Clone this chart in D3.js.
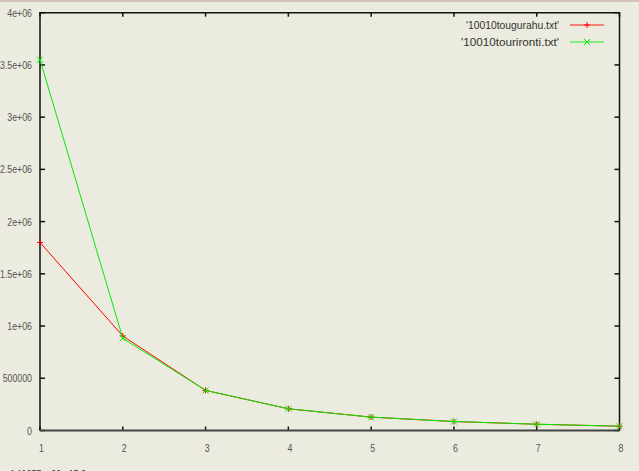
<!DOCTYPE html>
<html><head><meta charset="utf-8">
<script src="https://cdn.jsdelivr.net/npm/d3@7"></script>
<style>
html,body{margin:0;padding:0;background:#ecebdf;overflow:hidden;}
svg{display:block;}
text{font-family:"Liberation Sans",Arial,sans-serif;}
</style></head>
<body>
<script>
const xValues = [1, 2, 3, 4, 5, 6, 7, 8];
const seriesNames = ["'10010tougurahu.txt'", "'10010tourironti.txt'"];
const tougurahu = [1800000, 905000, 384000, 208000, 128000, 86000, 60000, 41000];
const tourironti = [3550000, 883000, 384000, 208000, 128000, 86000, 60000, 41000];
const seriesColors = ["#ff0000", "#00ee00"];
const yTicks = [0, 500000, 1000000, 1500000, 2000000, 2500000, 3000000, 3500000, 4000000];
const yTickLabels = ["0", "500000", "1e+06", "1.5e+06", "2e+06", "2.5e+06", "3e+06", "3.5e+06", "4e+06"];
const xTicks = [1, 2, 3, 4, 5, 6, 7, 8];
const statusText = "1.11977e+06,  -15.3";

const W = 639, H = 471;
const SX = 0.8;
const svg = d3.select("body").append("svg").attr("width", W).attr("height", H);
svg.append("rect").attr("width", W).attr("height", H).attr("fill", "#ecebdf");
svg.append("rect").attr("width", W).attr("height", 2).attr("fill", "#d4c3bb");

const L = 40, R = 619.5, T = 12.7, B = 430.5;
const x = d3.scaleLinear().domain([1, 8]).range([L, R]);
const y = d3.scaleLinear().domain([0, 4000000]).range([B, T]);

function label(px, py, txt, anchor, color) {
  return svg.append("text").attr("transform", `translate(${px},${py}) scale(${SX},1)`)
    .attr("text-anchor", anchor).attr("font-size", 11).attr("fill", color).text(txt);
}

// y tick labels
yTicks.forEach((d, i) => label(32, y(d) + 4, yTickLabels[i], "end", "#555"));
// x tick labels
xTicks.forEach(d => label(x(d) + 1.5, 452, d, "middle", "#555"));

// ticks (inward)
const tk = svg.append("g").attr("stroke", "#111").attr("stroke-width", 1.5);
tk.selectAll(".yl").data(yTicks).join("line").attr("class", "yl")
  .attr("x1", L).attr("x2", L + 5).attr("y1", d => y(d)).attr("y2", d => y(d));
tk.selectAll(".yr").data(yTicks).join("line").attr("class", "yr")
  .attr("x1", R - 5).attr("x2", R).attr("y1", d => y(d)).attr("y2", d => y(d));
tk.selectAll(".xb").data(xTicks).join("line").attr("class", "xb")
  .attr("x1", d => x(d)).attr("x2", d => x(d)).attr("y1", B - 4).attr("y2", B);
tk.selectAll(".xt").data(xTicks).join("line").attr("class", "xt")
  .attr("x1", d => x(d)).attr("x2", d => x(d)).attr("y1", T).attr("y2", T + 4);

// frame
svg.append("path").attr("fill", "none").attr("stroke", "#111").attr("stroke-width", 1.5)
  .attr("d", `M${L},${B} L${L},${T} L${R},${T} L${R},${B}`);
svg.append("line").attr("x1", L).attr("x2", R).attr("y1", B).attr("y2", B)
  .attr("stroke", "#444").attr("stroke-width", 2);

// series
const allSeries = [tougurahu, tourironti];
const line = d3.line().x((d, i) => x(xValues[i])).y(d => y(d));
function marker(g, type, cx, cy, color) {
  const s = 3;
  const d = type === 0
    ? `M${cx - s},${cy} L${cx + s},${cy} M${cx},${cy - s} L${cx},${cy + s}`
    : `M${cx - s},${cy - s} L${cx + s},${cy + s} M${cx - s},${cy + s} L${cx + s},${cy - s}`;
  g.append("path").attr("d", d).attr("stroke", color).attr("stroke-width", 1).attr("fill", "none");
}
allSeries.forEach((vals, si) => {
  const g = svg.append("g");
  g.append("path").datum(vals).attr("d", line).attr("fill", "none")
    .attr("stroke", seriesColors[si]).attr("stroke-width", 1);
  vals.forEach((v, i) => marker(g, si, x(xValues[i]), y(v), seriesColors[si]));
});

// legend
const legendWidths = [93, 98];
seriesNames.forEach((name, i) => {
  const ly = 25 + i * 17;
  svg.append("text").attr("x", 559 - legendWidths[i]).attr("y", ly + 4)
    .attr("textLength", legendWidths[i]).attr("lengthAdjust", "spacingAndGlyphs")
    .attr("font-size", 11).attr("fill", "#333").text(name);
  svg.append("line").attr("x1", 570).attr("x2", 604).attr("y1", ly).attr("y2", ly)
    .attr("stroke", seriesColors[i]).attr("stroke-opacity", 0.45).attr("stroke-width", 2);
  marker(svg, i, 587, ly, seriesColors[i]);
});

// status text (cut off at bottom)
label(10, 478, statusText, "start", "#333");
</script>
</body></html>
